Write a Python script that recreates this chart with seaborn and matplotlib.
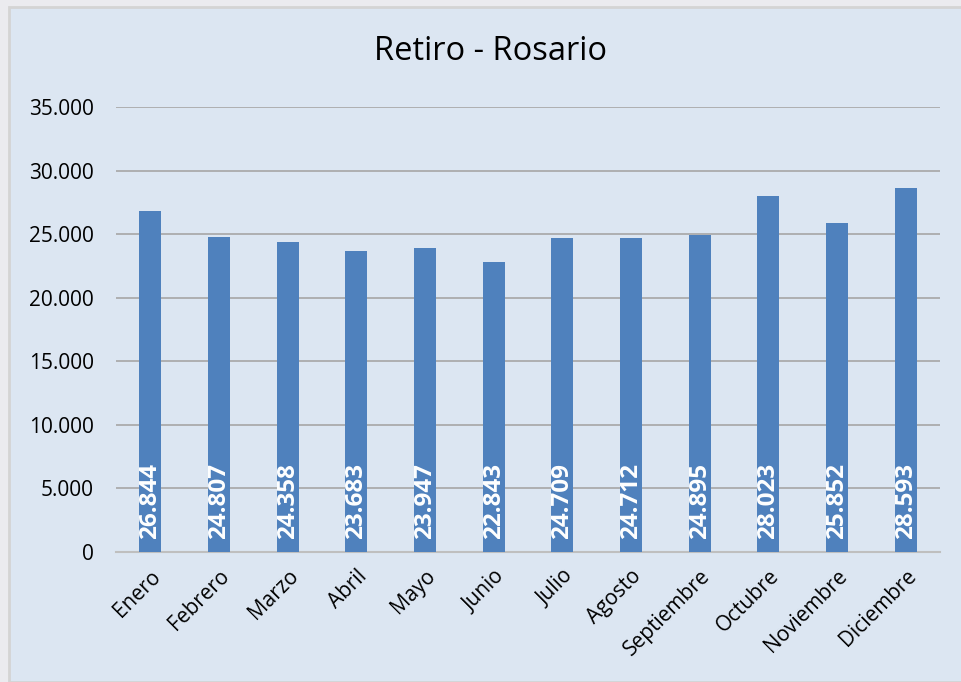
import matplotlib
matplotlib.use("Agg")
import matplotlib.pyplot as plt
from matplotlib.patches import Rectangle
from matplotlib.ticker import FuncFormatter
import seaborn as sns
import pandas as pd

meses = ['Enero', 'Febrero', 'Marzo', 'Abril', 'Mayo', 'Junio', 'Julio',
         'Agosto', 'Septiembre', 'Octubre', 'Noviembre', 'Diciembre']
pasajeros = [26844, 24807, 24358, 23683, 23947, 22843, 24709,
             24712, 24895, 28023, 25852, 28593]

BAR_COLOR = '#4F81BD'
BG = '#DCE6F2'

sns.set_style('white')
plt.rcParams['font.family'] = ['Open Sans', 'DejaVu Sans']

df = pd.DataFrame({'mes': meses, 'valor': pasajeros})

fig = plt.figure(figsize=(9.61, 6.82), dpi=100)
fig.patch.set_facecolor('#EBEBEF')
# chart area panel, drawn behind the axes
panel = Rectangle((9 / 961, 0), 1, 1 - 7 / 682, transform=fig.transFigure,
                  facecolor=BG, edgecolor='#D4D4D4', linewidth=2, zorder=-10)
fig.add_artist(panel)

ax = fig.add_axes([116 / 961, 1 - 552 / 682, (940 - 116) / 961, (552 - 107) / 682])
ax.set_zorder(1)
ax.set_facecolor(BG)

sns.barplot(data=df, x='mes', y='valor', color=BAR_COLOR, width=0.32,
            saturation=1, linewidth=0, ax=ax, zorder=3)

ax.set_ylim(0, 35000)
ax.set_yticks(range(0, 35001, 5000))
ax.yaxis.set_major_formatter(FuncFormatter(lambda v, p: f'{int(v):,}'.replace(',', '.')))
ax.grid(axis='y', color='#A6A6A6', linewidth=1.2, zorder=0)
ax.set_axisbelow(True)
for s in ['top', 'right', 'left']:
    ax.spines[s].set_visible(False)
ax.spines['bottom'].set_color('#BFBFBF')
ax.spines['bottom'].set_linewidth(1.5)

ax.tick_params(axis='y', length=0, labelsize=15, colors='black', pad=16)
ax.tick_params(axis='x', length=0, labelsize=15, colors='black', pad=10)
plt.setp(ax.get_xticklabels(), rotation=45, ha='right', rotation_mode='anchor')
ax.set_xlabel('')
ax.set_ylabel('')

for i, v in enumerate(pasajeros):
    ax.text(i, 1000, f'{v:,}'.replace(',', '.'), rotation=90, ha='center', va='bottom',
            color='white', fontsize=17.5, fontweight='bold', zorder=4)

fig.text(490 / 961, 1 - 52 / 682, 'Retiro - Rosario', ha='center', va='center',
         fontsize=23.5, color='black')

fig.savefig('out.png', dpi=100, facecolor=fig.get_facecolor())
